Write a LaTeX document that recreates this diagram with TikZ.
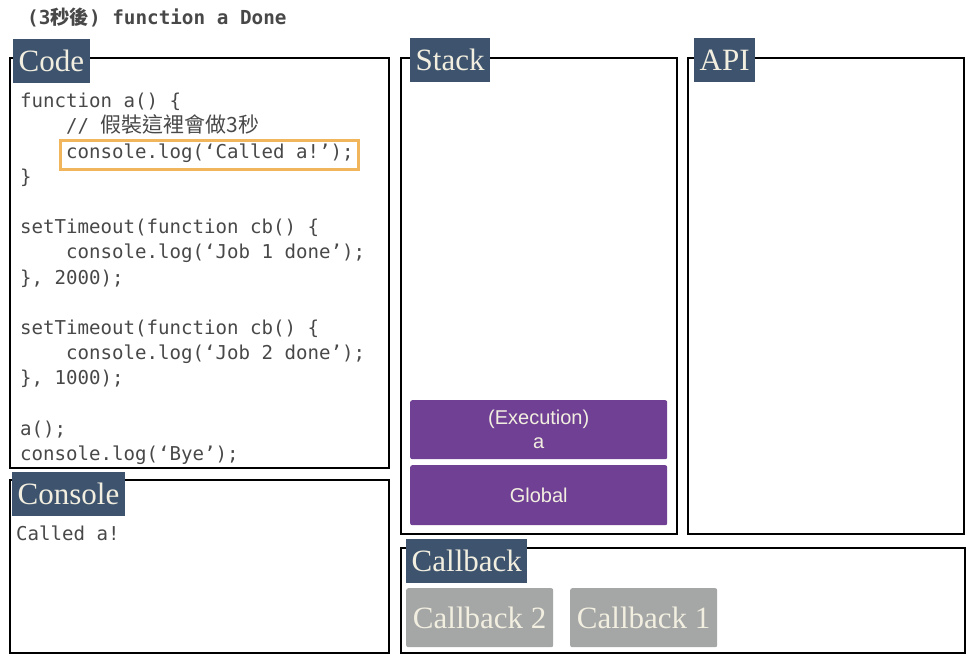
\documentclass[tikz,border=0pt]{standalone}
\usepackage{fontspec}
\setmonofont{DejaVu Sans Mono}
\setsansfont{Liberation Sans}
\newfontfamily\tagfont{Liberation Serif}
\newfontfamily\cjk{Noto Sans CJK TC}
\usetikzlibrary{positioning}

\definecolor{tagblue}{RGB}{62,84,110}
\definecolor{cream}{RGB}{242,238,224}
\definecolor{stackpurple}{RGB}{111,64,148}
\definecolor{cbgray}{RGB}{164,167,166}
\definecolor{hlorange}{RGB}{241,181,92}
\definecolor{codegray}{RGB}{72,72,72}

\tikzset{
  panel/.style={draw,line width=2.2pt,anchor=north west,inner sep=0pt},
  tag/.style={fill=tagblue,text=cream,anchor=north west,minimum height=44pt,inner xsep=5.5pt,inner ysep=0pt,font=\tagfont\fontsize{31}{31}\selectfont},
  frame/.style={fill=stackpurple,text=cream,anchor=north west,rounded corners=2pt,align=center,font=\sffamily\fontsize{20}{24}\selectfont},
  cbbox/.style={fill=cbgray,text=cream,anchor=north west,rounded corners=2pt,minimum width=147pt,minimum height=59pt,inner sep=0pt,font=\tagfont\fontsize{31}{31}\selectfont},
  code/.style={text=codegray,anchor=north west,inner sep=0pt,align=left,font=\ttfamily\fontsize{19.1}{25.2}\selectfont}
}

\begin{document}
\begin{tikzpicture}[x=1pt,y=-1pt]
\useasboundingbox (0,0) rectangle (976,664);

\node[anchor=base west,inner sep=0pt,text=codegray,font=\ttfamily\bfseries\fontsize{19.3}{20}\selectfont] (title) at (27,24) {(3{\cjk\bfseries 秒後}) function a Done};

\node[panel,minimum width=379pt,minimum height=410pt] (codepanel) at (9,57) {};
\node[panel,minimum width=379pt,minimum height=173pt] (consolepanel) at (9,479) {};
\node[panel,minimum width=276pt,minimum height=476pt] (stackpanel) at (400,57) {};
\node[panel,minimum width=276pt,minimum height=476pt] (apipanel) at (687,57) {};
\node[panel,minimum width=564pt,minimum height=105pt] (cbpanel) at (400,547) {};

\node[draw=hlorange,line width=2.5pt,anchor=north west,minimum width=298pt,minimum height=29pt] (hl) at (59,139) {};

\node[code] (codetext) at (20,93) {%
function a() \{\\
\phantom{0000}// {\cjk\fontsize{21}{25}\selectfont 假裝這裡會做3秒}\\
\phantom{0000}console.log(‘Called a!’);\\
\}\\[25.2pt]
setTimeout(function cb() \{\\
\phantom{0000}console.log(‘Job 1 done’);\\
\}, 2000);\\[25.2pt]
setTimeout(function cb() \{\\
\phantom{0000}console.log(‘Job 2 done’);\\
\}, 1000);\\[25.2pt]
a();\\
console.log(‘Bye’);};

\node[code,anchor=base west] (consoletext) at (16,540) {Called a!};

\node[frame,minimum width=257pt,minimum height=59pt] (exec) at (410,400) {(Execution)\\a};
\node[frame,minimum width=257pt,minimum height=60pt] (global) at (410,465) {Global};

\node[cbbox] (cb2) at (406,588) {Callback 2};
\node[cbbox] (cb1) at (570,588) {Callback 1};

\node[tag] (codetag) at (13,39) {Code};
\node[tag] (consoletag) at (12,472) {Console};
\node[tag] (stacktag) at (410,38) {Stack};
\node[tag] (apitag) at (694,38) {API};
\node[tag] (cbtag) at (406,539) {Callback};
\end{tikzpicture}
\end{document}
